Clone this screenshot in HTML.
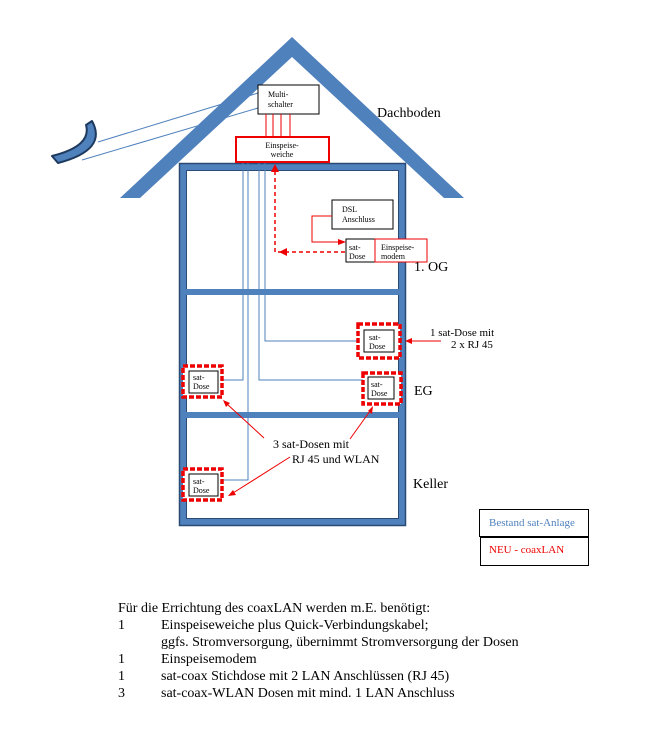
<!DOCTYPE html>
<html><head><meta charset="utf-8"><style>
body{margin:0;background:#fff;}
svg text{font-family:"Liberation Serif",serif;}
</style></head><body>
<svg width="656" height="743" viewBox="0 0 656 743" xmlns="http://www.w3.org/2000/svg">
<!-- roof -->
<polygon points="292,37 464,198 444,198 292,57 140,198 120,198" fill="#4f81bd"/>
<!-- dish -->
<path d="M92,121 Q108,150 58,163 L52,156 Q92,146 86,125 Z" fill="#4f81bd" stroke="#1f3a5f" stroke-width="2" stroke-linejoin="round"/>
<line x1="98" y1="142" x2="258" y2="93" stroke="#4f81bd" stroke-width="1"/>
<line x1="82" y1="160" x2="258" y2="108" stroke="#4f81bd" stroke-width="1"/>
<!-- building -->
<rect x="183" y="167" width="219" height="355" fill="#fff" stroke="#4f81bd" stroke-width="7"/>
<rect x="179.5" y="163.5" width="226" height="362" fill="none" stroke="#2a4a75" stroke-width="1.5"/>
<rect x="186.5" y="170.5" width="212" height="348" fill="none" stroke="#2a4a75" stroke-width="1"/>
<rect x="186" y="289" width="214" height="6" fill="#4f81bd"/>
<rect x="186" y="412" width="214" height="6" fill="#4f81bd"/>
<!-- multischalter -->
<rect x="258" y="85" width="61" height="29" fill="#fff" stroke="#000" stroke-width="1"/>
<text x="268" y="97" font-size="8">Multi-</text>
<text x="268" y="107" font-size="8">schalter</text>
<g stroke="#e00" stroke-width="1">
<line x1="266" y1="114" x2="266" y2="136"/><line x1="273" y1="114" x2="273" y2="136"/>
<line x1="281" y1="114" x2="281" y2="136"/><line x1="290" y1="114" x2="290" y2="136"/>
</g>
<rect x="236" y="137" width="93" height="25" fill="#fff" stroke="#e00" stroke-width="2"/>
<text x="282" y="148" font-size="8" text-anchor="middle">Einspeise-</text>
<text x="282" y="157" font-size="8" text-anchor="middle">weiche</text>
<!-- blue cables -->
<g stroke="#4f81bd" stroke-width="1" fill="none">
<polyline points="243,163 243,380 221,380"/>
<polyline points="248,163 248,480 222,480"/>
<polyline points="259,163 259,380 368,380"/>
<polyline points="265,163 265,341 364,341"/>
</g>
<!-- DSL -->
<rect x="332" y="200" width="61" height="29" fill="#fff" stroke="#000"/>
<text x="342" y="212" font-size="8">DSL</text>
<text x="342" y="222" font-size="8">Anschluss</text>
<polyline points="332,216 312,216 312,242 340,242" fill="none" stroke="#e00" stroke-width="1"/>
<polygon points="346,242 338,239 338,245" fill="#e00"/>
<rect x="346" y="239" width="29" height="23" fill="#fff" stroke="#000"/>
<text x="349" y="250" font-size="8">sat-</text>
<text x="349" y="259" font-size="8">Dose</text>
<rect x="375" y="239" width="52" height="23" fill="#fff" stroke="#e00" stroke-width="1"/>
<text x="381" y="250" font-size="8">Einspeise-</text>
<text x="381" y="259" font-size="8">modem</text>
<polyline points="345,252 275,252 275,172" fill="none" stroke="#e00" stroke-width="1.5" stroke-dasharray="4,3"/>
<polygon points="275,164 271,172 279,172" fill="#e00"/>
<polygon points="279,252 287,248 287,256" fill="#e00"/>
<!-- doses -->
<g fill="#fff">
<rect x="358" y="324" width="42" height="34" stroke="#e00" stroke-width="3.5" stroke-dasharray="5,2"/>
<rect x="364" y="330" width="30" height="22" stroke="#000" stroke-width="1"/>
<rect x="363" y="373" width="38" height="31" stroke="#e00" stroke-width="3.5" stroke-dasharray="5,2"/>
<rect x="368" y="377" width="26" height="22" stroke="#000" stroke-width="1"/>
<rect x="183" y="366" width="39" height="31" stroke="#e00" stroke-width="3.5" stroke-dasharray="5,2"/>
<rect x="189" y="371" width="29" height="22" stroke="#000" stroke-width="1"/>
<rect x="183" y="469" width="39" height="31" stroke="#e00" stroke-width="3.5" stroke-dasharray="5,2"/>
<rect x="189" y="474" width="29" height="22" stroke="#000" stroke-width="1"/>
</g>
<g font-size="8">
<text x="369" y="340">sat-</text><text x="369" y="349">Dose</text>
<text x="371" y="387">sat-</text><text x="371" y="396">Dose</text>
<text x="193" y="380">sat-</text><text x="193" y="389">Dose</text>
<text x="193" y="484">sat-</text><text x="193" y="493">Dose</text>
</g>
<!-- labels -->
<text x="377" y="117" font-size="14">Dachboden</text>
<text x="414" y="271" font-size="14">1. OG</text>
<text x="414" y="395" font-size="14">EG</text>
<text x="413" y="488" font-size="14">Keller</text>
<text x="430" y="336" font-size="11">1 sat-Dose mit</text>
<text x="451" y="348" font-size="11">2 x RJ 45</text>
<line x1="441" y1="341" x2="410" y2="341" stroke="#e00" stroke-width="1"/>
<polygon points="405,341 412,338 412,344" fill="#e00"/>
<text x="273" y="448" font-size="12">3 sat-Dosen mit</text>
<text x="292" y="463" font-size="12">RJ 45 und WLAN</text>
<g stroke="#e00" stroke-width="1">
<line x1="264" y1="438" x2="227" y2="404"/>
<line x1="350" y1="439" x2="370" y2="411"/>
<line x1="290" y1="457" x2="233" y2="493"/>
</g>
<polygon points="223,400 230,403 226,407" fill="#e00"/>
<polygon points="373,406 368,411 372,414" fill="#e00"/>
<polygon points="228,496 233,490 236,495" fill="#e00"/>
<!-- legend -->
<rect x="479.5" y="509.5" width="109" height="27" fill="#fff" stroke="#000"/>
<text x="489" y="526" font-size="11" fill="#4f81bd">Bestand sat-Anlage</text>
<rect x="480.5" y="537.5" width="108" height="28" fill="#fff" stroke="#000"/>
<text x="489" y="553" font-size="11" fill="#e00">NEU - coaxLAN</text>
<!-- bottom text -->
<g font-size="14">
<text x="118" y="612">Für die Errichtung des coaxLAN werden m.E. benötigt:</text>
<text x="118" y="629">1</text><text x="161" y="629">Einspeiseweiche plus Quick-Verbindungskabel;</text>
<text x="161" y="646">ggfs. Stromversorgung, übernimmt Stromversorgung der Dosen</text>
<text x="118" y="663">1</text><text x="161" y="663">Einspeisemodem</text>
<text x="118" y="680">1</text><text x="161" y="680">sat-coax Stichdose mit 2 LAN Anschlüssen (RJ 45)</text>
<text x="118" y="697">3</text><text x="161" y="697">sat-coax-WLAN Dosen mit mind. 1 LAN Anschluss</text>
</g>
</svg>
</body></html>
